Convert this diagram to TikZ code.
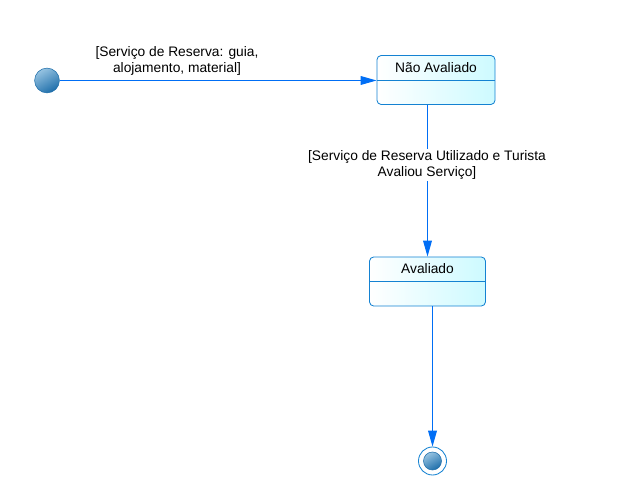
\documentclass[tikz,border=0pt]{standalone}
\usepackage{fontspec}
\setmainfont{Liberation Sans}
\usepackage{tikz}
\usetikzlibrary{arrows.meta}
\usetikzlibrary{positioning}

\definecolor{linkblue}{RGB}{0,110,245}
\definecolor{boxblue}{RGB}{20,130,210}
\definecolor{boxfill}{RGB}{205,250,255}
\definecolor{dotlight}{RGB}{150,195,225}
\definecolor{dotdark}{RGB}{30,110,170}

\tikzset{
  statebox/.style={draw=boxblue, line width=0.6pt, rounded corners=3pt, left color=white, right color=boxfill,
    minimum height=1.225cm, inner sep=0pt,
    path picture={\draw[boxblue, line width=0.6pt] (path picture bounding box.west) -- (path picture bounding box.east);}},
  statename/.style={inner sep=0pt, font=\fontsize{9.8}{11.7}\selectfont},
  guard/.style={align=center, inner sep=1pt, font=\fontsize{9.8}{11.7}\selectfont},
  dot/.style={circle, draw=dotdark, line width=0.4pt, top color=dotlight, bottom color=dotdark, shading angle=30, inner sep=0pt},
  trans/.style={linkblue, line width=0.75pt, -{Triangle[length=0.4cm,width=0.22cm]}}
}

\begin{document}
\begin{tikzpicture}[x=0.025cm, y=-0.025cm]
\useasboundingbox (0,0) rectangle (620,504);
\coordinate (s) at (47,80.5);
\coordinate (n) at (436,80);
\coordinate (v) at (427.5,281.5);
\coordinate (f) at (432.5,461);
% draws states
\node[statebox, minimum width=2.95cm] (naoaval) at (n) {};
\node[statebox, minimum width=2.9cm] (aval) at (v) {};
\node[statename, below=0.31cm of naoaval.north, anchor=center] (naoaval-name) {Não Avaliado};
\node[statename, below=0.31cm of aval.north, anchor=center] (aval-name) {Avaliado};
% draws initial and final state
\node[dot, minimum size=0.62cm] (start) at (s) {};
\node[circle, draw=boxblue, line width=0.6pt, fill=white, minimum size=0.7cm, inner sep=0pt] (stop) at (f) {};
\node[dot, minimum size=0.45cm] (stop-dot) at (f) {};
% draws transitions
\draw[trans] (start) -- (start -| naoaval.west);
\draw[trans] (aval.north |- naoaval.south) -- (aval.north);
\draw[trans] (stop |- aval.south) -- (stop.north);
% labels transitions
\node[guard] (guard-a) at (177,61) {[Serviço de Reserva: guia,\\alojamento, material]};
\node[guard, fill=white] (guard-b) at (427,165) {[Serviço de Reserva Utilizado e Turista\\Avaliou Serviço]};
\end{tikzpicture}
\end{document}
